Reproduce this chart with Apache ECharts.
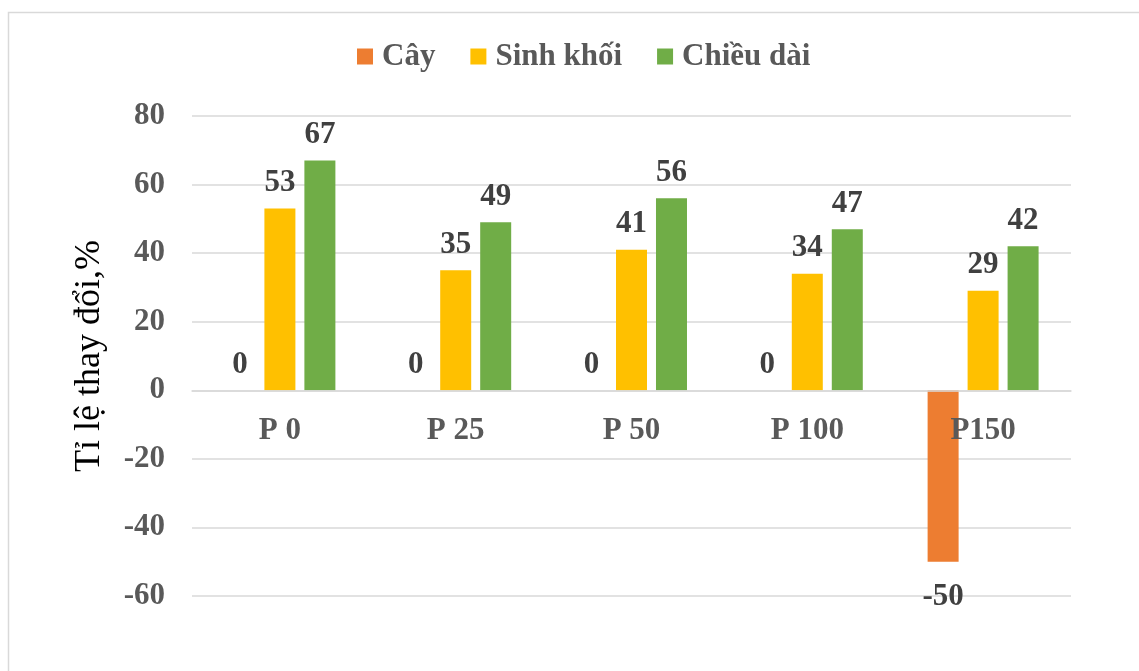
<!DOCTYPE html>
<html><head><meta charset="utf-8">
<script src="https://cdn.jsdelivr.net/npm/echarts@6/dist/echarts.min.js"></script>
<style>html,body{margin:0;padding:0;background:#fff}#c{width:1139px;height:671px}</style>
</head><body><div id="c"></div>
<script>
var categories = ['P 0', 'P 25', 'P 50', 'P 100', 'P150'];
var seriesNames = ['Cây', 'Sinh khối', 'Chiều dài'];
var cay = [0, 0, 0, 0, -50];
var sinhKhoi = [53, 35, 41, 34, 29];
var chieuDai = [67, 49, 56, 47, 42];
var yTicks = [-60, -40, -20, 0, 20, 40, 60, 80];
var colors = ['#ED7D31', '#FFC000', '#70AD47'];
var font = '"Liberation Serif", "Times New Roman", serif';

var gridTop = 116, gridBottom = 75, chartH = 671;
var plotH = chartH - gridTop - gridBottom;
var yMin = yTicks[0], yMax = yTicks[yTicks.length - 1];
// distance from bottom of plot to the zero line, derived from the axis range
var zeroOffset = plotH * (0 - yMin) / (yMax - yMin);

function mkData(arr) {
  return arr.map(function (v) {
    var lbl = {};
    if (v < 0) lbl = { position: 'bottom', distance: 20 };
    return { value: v, label: lbl };
  });
}
var labelBase = { show: true, position: 'top', distance: 10, fontFamily: font, fontWeight: 'bold', fontSize: 31, color: '#404040' };

var chart = echarts.init(document.getElementById('c'));
chart.setOption({
  animation: false,
  graphic: [{ type: 'rect', shape: { x: 8.5, y: 12.5, width: 1140, height: 680 }, style: { fill: 'none', stroke: '#d9d9d9', lineWidth: 1.5 } }],
  legend: {
    top: 36, left: 352, itemWidth: 16, itemHeight: 16, itemGap: 35, icon: 'rect',
    textStyle: { fontFamily: font, fontWeight: 'bold', fontSize: 31, color: '#595959', padding: [0, 0, 0, 4] }
  },
  grid: { left: 192, right: 68, top: gridTop, bottom: gridBottom },
  xAxis: {
    type: 'category', data: categories, z: 5,
    offset: -zeroOffset,
    axisLine: { onZero: false, lineStyle: { color: '#d9d9d9', width: 1.5 } },
    axisTick: { show: false },
    axisLabel: { margin: 25, fontFamily: font, fontWeight: 'bold', fontSize: 31, color: '#595959' }
  },
  yAxis: {
    type: 'value', min: yMin, max: yMax, interval: 20,
    name: 'Tỉ lệ thay đổi,%', nameLocation: 'middle', nameGap: 84, nameRotate: 90,
    nameTextStyle: { fontFamily: font, fontSize: 36, color: '#000' },
    axisLine: { show: false }, axisTick: { show: false },
    axisLabel: { margin: 27, fontFamily: font, fontWeight: 'bold', fontSize: 31, color: '#595959' },
    splitLine: { lineStyle: { color: '#d9d9d9', width: 1.5 } }
  },
  series: [
    { name: seriesNames[0], type: 'bar', data: mkData(cay), itemStyle: { color: colors[0] }, barWidth: 31, barGap: '29%', label: labelBase },
    { name: seriesNames[1], type: 'bar', data: mkData(sinhKhoi), itemStyle: { color: colors[1] }, barWidth: 31, barGap: '29%', label: labelBase },
    { name: seriesNames[2], type: 'bar', data: mkData(chieuDai), itemStyle: { color: colors[2] }, barWidth: 31, barGap: '29%', label: labelBase }
  ]
});
</script></body></html>
